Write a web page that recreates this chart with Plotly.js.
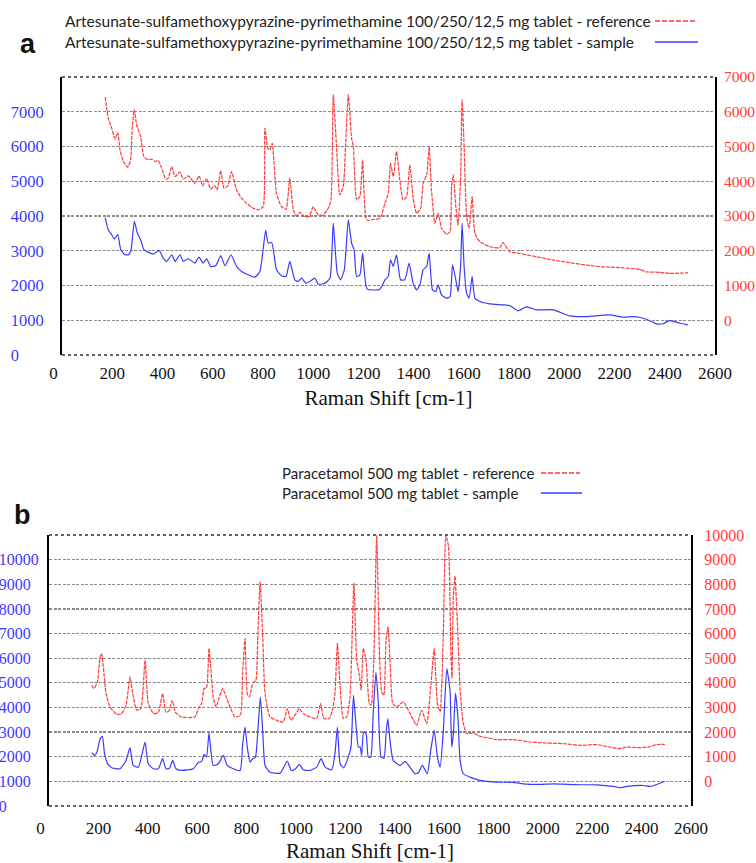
<!DOCTYPE html>
<html>
<head>
<meta charset="utf-8">
<script src="https://cdn.plot.ly/plotly-3.0.1.min.js"></script>
<style>html,body{margin:0;padding:0;background:#fff;}#chart{width:756px;height:863px;}</style>
</head>
<body>
<div id="chart"></div>
<script>
// ---------- Panel a : Artesunate-sulfamethoxypyrazine-pyrimethamine ----------
const aRefX = [172,184,198,211,222,231,244,261,273,280,288,297,313,326,344,357,370,383,397,413,423,437,450,470,483,503,529,546,560,576,592,609,618,632,645,660,675,695,715,735,761,781,801,808,819,828,837,854,874,892,907,921,934,947,967,985,1000,1020,1040,1060,1071,1080,1093,1106,1120,1129,1140,1153,1160,1173,1186,1197,1213,1240,1266,1286,1299,1308,1319,1332,1345,1358,1372,1385,1398,1412,1428,1438,1452,1462,1471,1485,1498,1511,1531,1545,1551,1558,1568,1577,1587,1593,1601,1611,1621,1633,1644,1664,1703,1743,1756,1783,1823,1889,1956,2022,2088,2154,2234,2300,2327,2380,2420,2493];
const aRefY = [6425,5819,5530,5213,5404,4905,4568,4406,4616,5577,6059,5626,5289,4712,4616,4636,4568,4597,4377,4059,4088,4425,4136,4262,4059,4155,3943,4155,3866,4077,3770,3866,3751,4308,3799,3866,4279,3751,3511,3367,3223,3174,3269,5530,4953,4905,5097,3655,3269,3193,4088,3174,3001,3107,2980,2990,3269,3030,3030,3223,3462,6492,5000,3607,3847,5000,6492,5242,5000,3462,3558,4616,2885,2900,2934,3367,3655,4521,4136,4857,4040,3462,3558,4472,3511,3078,3222,3944,4184,5000,3751,2790,3078,2646,2481,2548,3847,4184,3269,2741,4040,6348,5000,2980,2646,3558,2501,2260,2116,2087,2232,1971,1924,1828,1731,1655,1587,1538,1510,1462,1394,1380,1347,1366];

const aSmpX = [172,184,198,208,222,234,251,265,275,288,300,313,326,344,364,387,403,417,437,450,470,483,503,529,545,562,576,592,612,632,649,673,695,715,741,768,788,811,821,835,854,874,892,907,927,940,954,971,987,1007,1020,1047,1067,1080,1096,1109,1124,1140,1153,1163,1173,1186,1197,1215,1266,1286,1299,1308,1319,1332,1348,1365,1382,1398,1412,1425,1438,1452,1462,1475,1488,1498,1511,1531,1545,1555,1568,1577,1587,1593,1601,1611,1621,1633,1644,1664,1703,1756,1783,1816,1849,1889,1956,2022,2088,2181,2234,2280,2327,2367,2393,2420,2460,2493];
const aSmpY = [3943,3607,3462,3337,3462,3030,2885,2885,3030,3847,3511,3318,3030,2953,2905,3011,2789,2693,2885,2693,2885,2693,2770,2645,2818,2645,2770,2549,2570,2856,2568,2885,2549,2405,2308,2241,2405,3588,3222,3241,2452,2279,2260,2693,2164,2116,2212,2068,2116,2212,2039,2068,2212,3799,2357,2164,2452,3895,3222,3030,2260,2308,2934,1895,1895,2164,2260,2741,2549,2885,2164,2164,2645,2068,1875,2020,2452,2549,2934,1875,1827,2020,1731,1635,1683,2597,2164,1827,2549,3799,2549,1779,1635,2260,1635,1539,1471,1443,1420,1270,1385,1299,1299,1125,1106,1154,1087,1106,1029,894,900,991,914,866];

// ---------- Panel b : Paracetamol ----------
const bRefX = [173,182,196,207,213,220,231,247,274,294,312,328,339,355,372,389,402,423,443,460,474,485,499,512,537,591,605,618,628,638,648,665,676,686,703,720,733,753,775,784,794,803,812,825,838,845,855,864,875,895,922,949,965,980,1000,1014,1030,1057,1084,1100,1113,1135,1149,1158,1168,1179,1192,1206,1219,1235,1246,1257,1264,1273,1284,1297,1305,1316,1327,1338,1347,1356,1365,1373,1382,1392,1408,1435,1462,1489,1509,1530,1546,1560,1573,1584,1597,1607,1618,1627,1632,1637,1644,1654,1665,1678,1692,1718,1746,1780,1813,1880,1948,2016,2083,2151,2218,2272,2306,2340,2393,2430,2461,2494];
const bRefY = [3902,3768,4037,5053,5191,4646,3565,3020,2724,2750,3089,4240,3565,2886,2950,4919,3158,2752,2800,3565,2800,2850,3293,2800,2614,2614,2955,3158,3768,3800,5394,3427,3020,3293,3768,3362,3020,2614,2680,4378,5801,3565,3427,3971,4105,5732,8102,6272,3565,2614,2480,2411,2955,2480,2750,2955,2750,2614,2549,3158,2549,2549,2955,3565,5597,3833,2549,2614,3427,8035,4919,4309,3699,5394,4919,3158,3089,5191,10000,5325,3630,3496,5732,6272,4646,3158,3020,3224,2752,2276,2886,2345,3833,5394,3158,2817,6004,10000,9524,5459,4175,7358,8333,6411,3699,2345,1939,1963,1829,1760,1695,1695,1598,1557,1531,1463,1490,1394,1328,1394,1369,1400,1490,1504];

const bSmpX = [173,186,196,207,216,225,236,254,288,312,328,341,362,389,402,423,443,460,474,488,501,514,537,585,605,618,628,638,648,665,686,706,722,746,774,784,794,803,814,825,836,845,856,866,875,895,936,965,981,997,1014,1030,1057,1084,1102,1118,1145,1158,1168,1179,1193,1212,1223,1233,1244,1253,1260,1266,1274,1284,1293,1303,1313,1324,1333,1345,1357,1365,1372,1381,1394,1422,1442,1462,1482,1496,1512,1532,1546,1560,1573,1584,1597,1611,1624,1631,1638,1646,1656,1665,1678,1705,1746,1813,1880,1921,1975,2043,2097,2151,2218,2286,2313,2340,2407,2434,2468,2494];
const bSmpY = [2163,2053,2256,2732,2825,2122,1740,1553,1512,1850,2366,1646,1577,2593,1715,1512,1512,1919,1512,1530,1850,1512,1443,1512,1780,1800,2093,2000,2959,1646,1715,2053,1646,1512,1443,2459,3203,2390,1780,1919,1984,2935,4423,2935,1646,1374,1333,1821,1443,1500,1687,1472,1443,1577,1919,1577,1472,2122,3203,1715,1550,1984,2390,4492,3203,2390,2400,2053,3000,2950,1984,1984,3748,5439,4289,1984,1950,2935,3545,2663,1850,1646,1809,1577,1309,1350,1646,1309,2256,3069,1984,1577,3069,5577,4695,2390,3000,4585,3610,1850,1309,1171,1037,967,960,902,874,902,880,862,860,793,740,793,833,793,902,996];

// ---------- labels and ticks ----------
const xTicks = [0,200,400,600,800,1000,1200,1400,1600,1800,2000,2200,2400,2600];
const aLeftTicks = [0,1000,2000,3000,4000,5000,6000,7000];
const aRightTicks = [0,1000,2000,3000,4000,5000,6000,7000];
const bLeftTicks = [0,1000,2000,3000,4000,5000,6000,7000,8000,9000,10000];
const bRightTicks = [0,1000,2000,3000,4000,5000,6000,7000,8000,9000,10000];
const xTitle = 'Raman Shift [cm-1]';
const aNames = ['Artesunate-sulfamethoxypyrazine-pyrimethamine 100/250/12,5 mg tablet - reference',
                'Artesunate-sulfamethoxypyrazine-pyrimethamine 100/250/12,5 mg tablet - sample'];
const bNames = ['Paracetamol 500 mg tablet - reference', 'Paracetamol 500 mg tablet - sample'];
const panelLabels = ['a', 'b'];

// ---------- helpers ----------
const NB = '\u00a0';
function padLeftAligned(vals, width) {
  // tick labels in the reference are left-aligned: pad shorter numbers on the right
  return vals.map(v => { const s = String(v); return s + NB.repeat(2 * (width - s.length)); });
}
const xTickText = xTicks.map(v => v === 0 ? '0' + NB.repeat(4) : String(v));

const W = 756, H = 863;
const px = x => x / W, py = y => 1 - y / H;

const RED = '#ff3b3b', BLUE = '#3a3aff';
const SERIF = 'Liberation Serif';
const SANS = 'Lato';

const refLine = {color: RED, width: 1.2, dash: '4px,1px', shape: 'spline', smoothing: 0.5};
const smpLine = {color: BLUE, width: 1.2, shape: 'spline', smoothing: 0.5};

const traces = [
  {x: aRefX, y: aRefY, type: 'scatter', mode: 'lines', line: refLine, xaxis: 'x', yaxis: 'y2', name: aNames[0]},
  {x: aSmpX, y: aSmpY, type: 'scatter', mode: 'lines', line: smpLine, xaxis: 'x', yaxis: 'y', name: aNames[1]},
  {x: bRefX, y: bRefY, type: 'scatter', mode: 'lines', line: refLine, xaxis: 'x2', yaxis: 'y4', name: bNames[0]},
  {x: bSmpX, y: bSmpY, type: 'scatter', mode: 'lines', line: smpLine, xaxis: 'x2', yaxis: 'y3', name: bNames[1]}
];

// panel geometry (pixels)
const A = {l: 62, r: 715, t: 77, b: 355};
const B = {l: 49, r: 691, t: 535, b: 806};

function xAxis(P, anchor, standoff) {
  return {
    domain: [px(P.l), px(P.r)], range: [0, 2600], anchor: anchor,
    tickmode: 'array', tickvals: xTicks, ticktext: xTickText,
    tickfont: {family: SERIF, size: 17, color: '#111'},
    ticks: '', showgrid: false, zeroline: false, showline: false,
    ticklabelstandoff: standoff,
    title: {text: xTitle, font: {family: SERIF, size: 21, color: '#111'}, standoff: 8}
  };
}
function leftAxis(P, anchor, range, ticks, width, color, size, standoff) {
  return {
    domain: [py(P.b), py(P.t)], range: range, anchor: anchor,
    tickmode: 'array', tickvals: ticks, ticktext: padLeftAligned(ticks, width),
    tickfont: {family: SERIF, size: size, color: color},
    ticks: '', showgrid: true, gridcolor: '#8a8a8a', gridwidth: 1.3, griddash: '3px,1.5px',
    zeroline: false, showline: true, linecolor: '#000', linewidth: 2,
    ticklabelstandoff: standoff
  };
}
function rightAxis(over, anchor, range, ticks, color, size, standoff) {
  return {
    overlaying: over, side: 'right', anchor: anchor, range: range,
    tickmode: 'array', tickvals: ticks, ticktext: ticks.map(String),
    tickfont: {family: SERIF, size: size, color: color},
    ticks: '', showgrid: false, zeroline: false, showline: true, linecolor: '#000', linewidth: 2,
    ticklabelstandoff: standoff
  };
}

function border(P, y) {
  return {type: 'line', xref: 'paper', yref: 'paper', x0: px(P.l), x1: px(P.r), y0: py(y), y1: py(y),
          line: {color: '#333', width: 1.6, dash: 'dot'}};
}
function legendLine(x0, x1, y, line) {
  return {type: 'line', xref: 'paper', yref: 'paper', x0: px(x0), x1: px(x1), y0: py(y), y1: py(y),
          line: {color: line.color, width: 1.6, dash: line.dash || 'solid'}};
}
function text(t, x, y, font, anchor) {
  return {text: t, xref: 'paper', yref: 'paper', x: px(x), y: py(y), xanchor: anchor || 'left', yanchor: 'middle',
          showarrow: false, font: font};
}
const legFontA = {family: SANS, size: 15.5, color: '#222'};
const legFontB = {family: SANS, size: 15, color: '#222'};
const panelFont = {family: 'Liberation Sans', size: 27, color: '#111'};

const layout = {
  width: W, height: H, margin: {l: 0, r: 0, t: 0, b: 0},
  font: {family: SERIF},
  paper_bgcolor: '#fff', plot_bgcolor: '#fff', showlegend: false,
  xaxis: xAxis(A, 'y', 6),
  yaxis: leftAxis(A, 'x', [0, 8000], aLeftTicks, 4, BLUE, 16.5, 13),
  yaxis2: rightAxis('y', 'x', [-1000, 7000], aRightTicks, RED, 15.5, 4),
  xaxis2: xAxis(B, 'y3', 10),
  yaxis3: leftAxis(B, 'x2', [0, 11000], bLeftTicks, 5, BLUE, 16, 5),
  yaxis4: rightAxis('y3', 'x2', [-1000, 10000], bRightTicks, RED, 16, 8),
  shapes: [
    border(A, A.t), border(A, A.b), border(B, B.t), border(B, B.b),
    legendLine(655, 697, 21, {color: RED, dash: '5px,2px'}),
    legendLine(655, 698, 42, {color: BLUE}),
    legendLine(541, 580, 473, {color: RED, dash: '5px,2px'}),
    legendLine(541, 582, 493, {color: BLUE})
  ],
  annotations: [
    text(aNames[0], 63, 21, legFontA),
    text(aNames[1], 63, 42, legFontA),
    text(bNames[0], 280, 473, legFontB),
    text(bNames[1], 280, 493, legFontB),
    text('<b>' + panelLabels[0] + '</b>', 18, 44, panelFont),
    text('<b>' + panelLabels[1] + '</b>', 12, 515, panelFont)
  ]
};

Plotly.newPlot('chart', traces, layout, {staticPlot: true, displayModeBar: false});
</script>
</body>
</html>
